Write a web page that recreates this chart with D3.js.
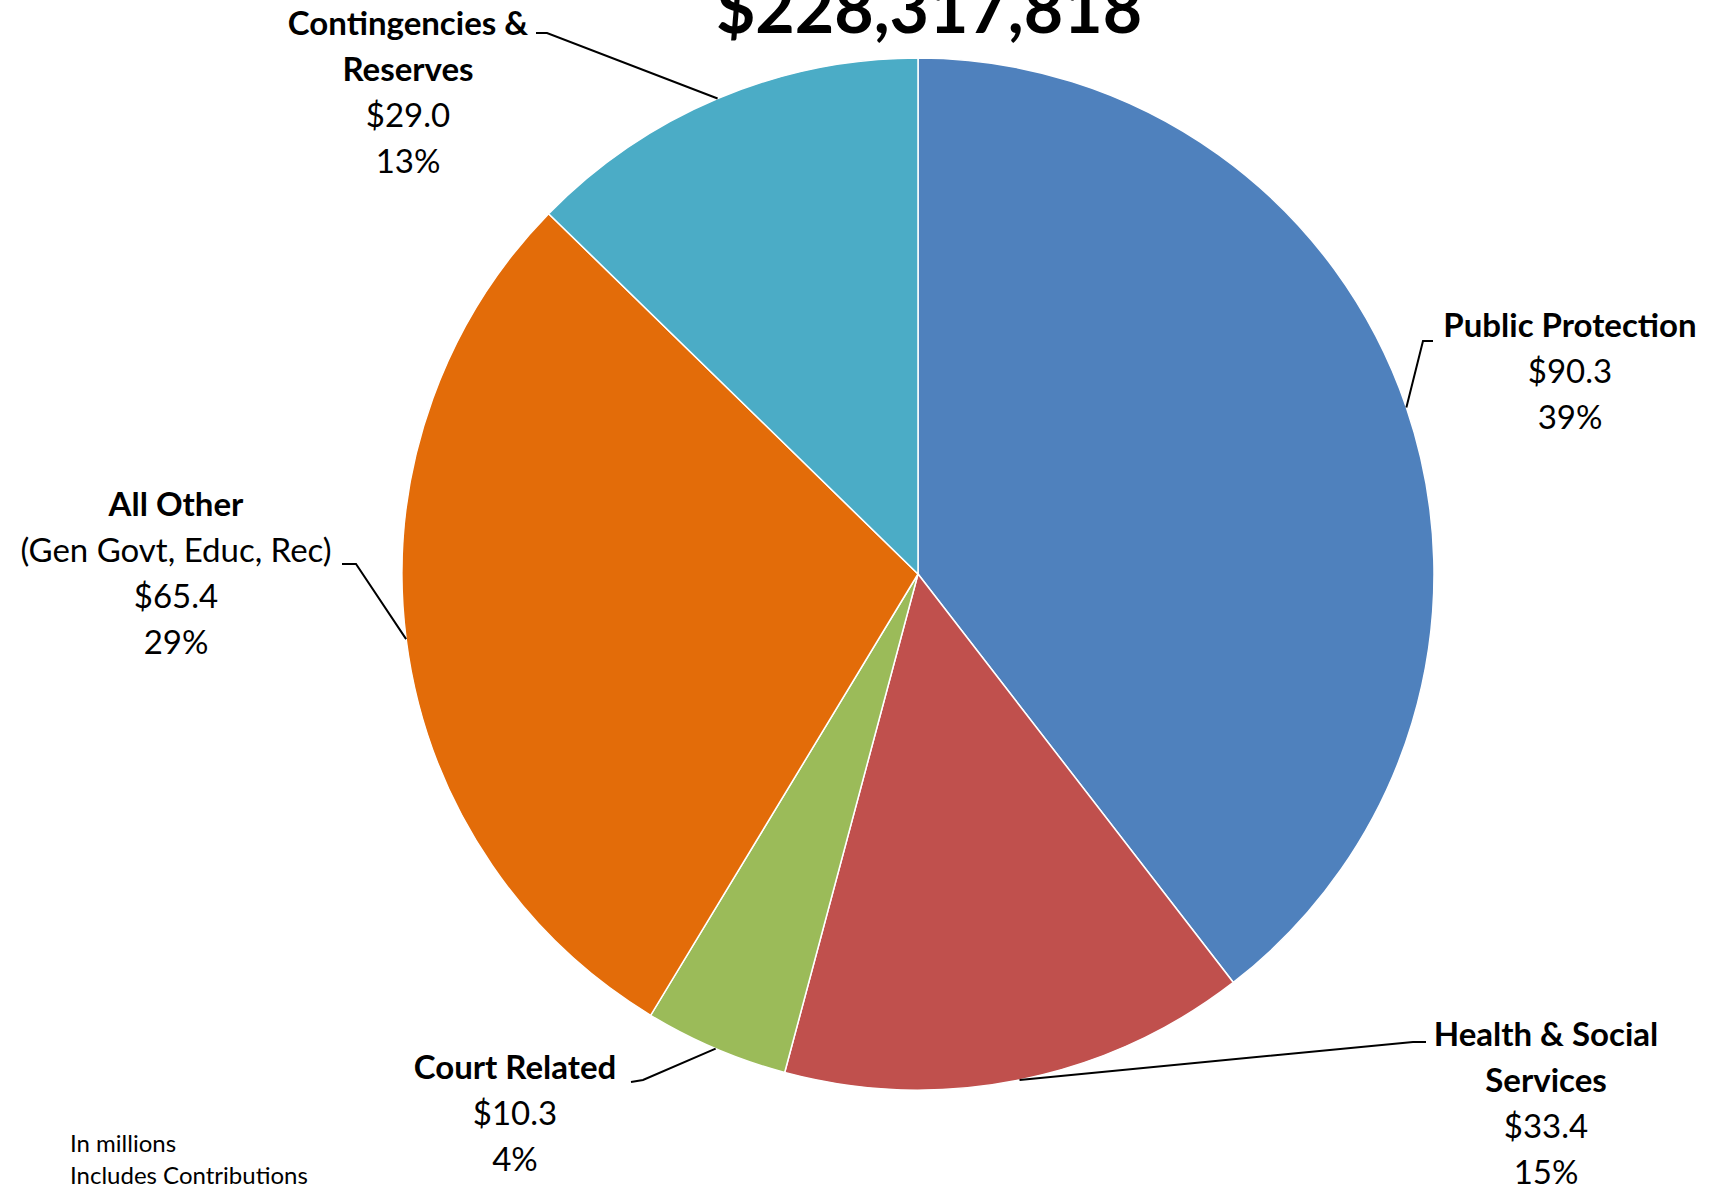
<!DOCTYPE html>
<html>
<head>
<meta charset="utf-8">
<script src="https://cdn.jsdelivr.net/npm/d3@7"></script>
<style>
  body { margin: 0; background: #fff; }
  text { font-family: Lato, "Open Sans", sans-serif; fill: #000; }
</style>
</head>
<body>
<div class="canvas"></div>
<script>
// data (in millions)
const categories = ['Public Protection', 'Health & Social Services', 'Court Related', 'All Other', 'Contingencies & Reserves'];
const amounts = [90.3, 33.4, 10.3, 65.4, 29.0];
const percents = ['39%', '15%', '4%', '29%', '13%'];
const colors = ['#4F81BD', '#C0504D', '#9BBB59', '#E36C09', '#4BACC6'];
const titleText = '$228,317,818';
const notes = ['In millions', 'Includes Contributions'];

// label text lines (bold lines first, then normal lines)
const labelBold = [['Public Protection'], ['Health & Social', 'Services'], ['Court Related'], ['All Other'], ['Contingencies &', 'Reserves']];
const labelExtra = [[], [], [], ['(Gen Govt, Educ, Rec)'], []];

// layout for labels: text centre x, first baseline y, leader start and elbow
const labelLayout = [
    { x: 1570, y: 337, from: [1433, 341], elbow: [1423, 341] },
    { x: 1546, y: 1046, from: [1426, 1042], elbow: [1413, 1042] },
    { x: 515, y: 1079, from: [631, 1082], elbow: [643, 1080] },
    { x: 176, y: 516, from: [342, 564], elbow: [356, 564] },
    { x: 408, y: 35, from: [536, 33], elbow: [547, 33] }
];

const width = 1714, height = 1187;
const cx = 918, cy = 574, radius = 516;
const lineH = 46;

const svg = d3.select('.canvas')
    .append('svg')
    .attr('width', width)
    .attr('height', height);

// pie
const pie = d3.pie().sort(null).value(d => d)(amounts);
const arc = d3.arc().innerRadius(0).outerRadius(radius);

const graph = svg.append('g')
    .attr('transform', `translate(${cx}, ${cy})`);

graph.selectAll('path')
    .data(pie)
    .enter()
    .append('path')
    .attr('d', arc)
    .attr('fill', (d, i) => colors[i])
    .attr('stroke', '#fff')
    .attr('stroke-width', 1.5);

// leader lines: label -> elbow -> slice edge at mid angle
pie.forEach((d, i) => {
    const mid = (d.startAngle + d.endAngle) / 2;
    const ex = cx + radius * Math.sin(mid);
    const ey = cy - radius * Math.cos(mid);
    const L = labelLayout[i];
    svg.append('polyline')
        .attr('points', [L.from, L.elbow, [ex, ey]].map(p => p.join(',')).join(' '))
        .attr('fill', 'none')
        .attr('stroke', '#000')
        .attr('stroke-width', 2);
});

// labels
categories.forEach((c, i) => {
    const L = labelLayout[i];
    const lines = labelBold[i].map(t => ({ t, bold: true }))
        .concat(labelExtra[i].map(t => ({ t, bold: false })))
        .concat([{ t: '$' + amounts[i].toFixed(1), bold: false }, { t: percents[i], bold: false }]);
    const txt = svg.append('text')
        .attr('text-anchor', 'middle')
        .attr('font-size', 33);
    lines.forEach((l, k) => {
        txt.append('tspan')
            .attr('x', L.x)
            .attr('y', L.y + k * lineH)
            .attr('font-weight', l.bold ? 700 : 400)
            .text(l.t);
    });
});

// title (cut off at top like the original)
svg.append('text')
    .attr('x', 929)
    .attr('y', 33)
    .attr('text-anchor', 'middle')
    .attr('font-size', 68)
    .attr('font-weight', 700)
    .text(titleText);

// footnotes
svg.selectAll('.note')
    .data(notes)
    .enter()
    .append('text')
    .attr('class', 'note')
    .attr('x', 70)
    .attr('y', (d, i) => 1152 + i * 32)
    .attr('font-size', 24)
    .text(d => d);
</script>
</body>
</html>
